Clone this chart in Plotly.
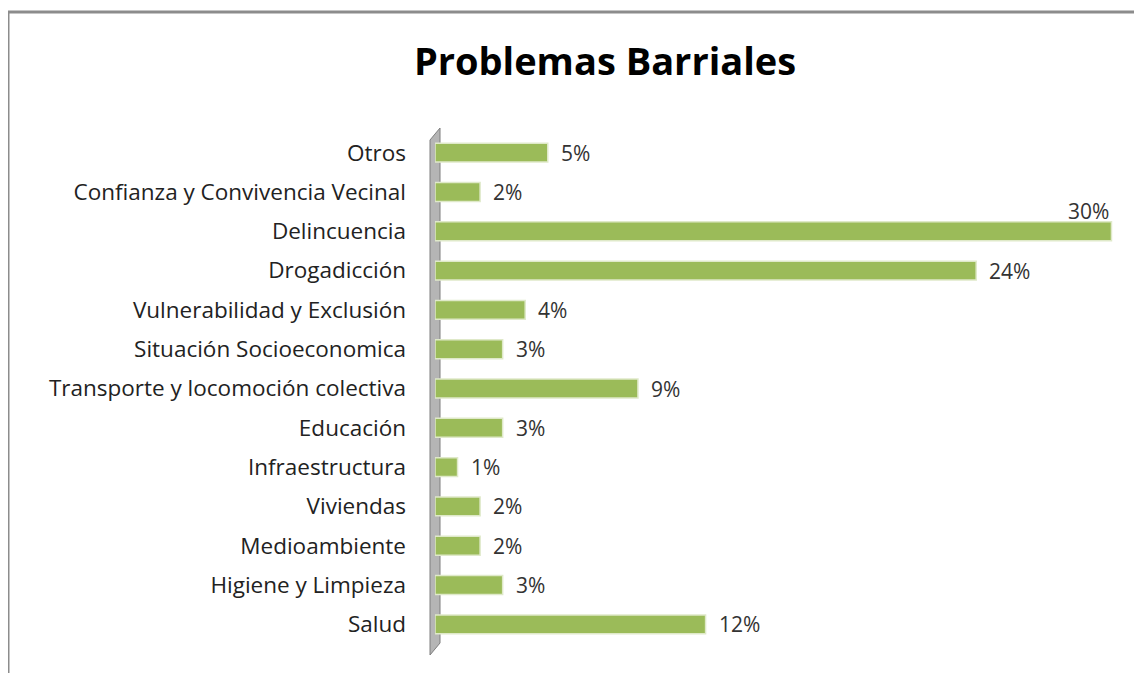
import plotly.graph_objects as go

# categorías de abajo hacia arriba (como en el gráfico)
categorias = [
    "Salud",
    "Higiene y Limpieza",
    "Medioambiente",
    "Viviendas",
    "Infraestructura",
    "Educación",
    "Transporte y locomoción colectiva",
    "Situación Socioeconomica",
    "Vulnerabilidad y Exclusión",
    "Drogadicción",
    "Delincuencia",
    "Confianza y Convivencia Vecinal",
    "Otros",
]
porcentajes = [12, 3, 2, 2, 1, 3, 9, 3, 4, 24, 30, 2, 5]

OFF = 8  # margen del body de la página
W, H = 1142 - OFF, 673 - OFF
ML, MR, MT, MB = 435 - OFF, 17, 133 - OFF, 29
PW, PH = W - ML - MR, H - MT - MB

VERDE = "#9bbb59"
FUENTE = "Open Sans, Lato, sans-serif"

fig = go.Figure()
fig.add_trace(
    go.Bar(
        x=porcentajes,
        y=categorias,
        orientation="h",
        width=0.48,
        marker={"color": VERDE, "line": {"color": "#dfe9c9", "width": 1.5}},
        hoverinfo="skip",
    )
)

# etiquetas de datos
anots = []
for cat, val in zip(categorias, porcentajes):
    fuente = {"size": 21, "color": "#333333", "family": FUENTE}
    if val == max(porcentajes):
        anots.append(dict(x=val, y=cat, text=f"{val}%", xanchor="right",
                          yanchor="bottom", yshift=4, showarrow=False, font=fuente))
    else:
        anots.append(dict(x=val, y=cat, text=f"{val}%", xanchor="left",
                          xshift=11, showarrow=False, font=fuente))


def px_x(v):
    return (v - OFF - ML) / PW


def px_y(v):
    return (H - MB - (v - OFF)) / PH


shapes = [
    # marco del área del gráfico
    dict(type="line", xref="paper", yref="paper", x0=px_x(8), x1=px_x(1160),
         y0=px_y(12), y1=px_y(12), line={"color": "#8c8c8c", "width": 3}),
    dict(type="line", xref="paper", yref="paper", x0=px_x(8), x1=px_x(8),
         y0=px_y(12), y1=px_y(690), line={"color": "#8c8c8c", "width": 3}),
    # pared gris del eje
    dict(type="path", xref="paper", yref="paper",
         path=f"M {px_x(430)},{px_y(140)} L {px_x(440)},{px_y(128)} "
              f"L {px_x(440)},{px_y(643)} L {px_x(430)},{px_y(655)} Z",
         fillcolor="#b5b5b5", line={"color": "#7f7f7f", "width": 1}, layer="below"),
]

fig.update_layout(
    width=W,
    height=H,
    margin={"l": ML, "r": MR, "t": MT, "b": MB},
    paper_bgcolor="white",
    plot_bgcolor="white",
    showlegend=False,
    title={
        "text": "<b>Problemas Barriales</b>",
        "x": (605 - OFF) / W,
        "xanchor": "center",
        "y": 1 - (62 - OFF) / H,
        "yanchor": "middle",
        "font": {"size": 38, "color": "#000000", "family": FUENTE},
    },
    xaxis={"range": [0, 30.6], "visible": False, "fixedrange": True},
    yaxis={
        "categoryorder": "array",
        "categoryarray": categorias,
        "range": [-0.5, len(categorias) - 0.5],
        "showgrid": False,
        "showline": False,
        "ticks": "",
        "ticklabelstandoff": 28,
        "tickfont": {"size": 22.5, "color": "#222222", "family": FUENTE},
    },
    annotations=anots,
    shapes=shapes,
)

fig.write_html("out.html")
